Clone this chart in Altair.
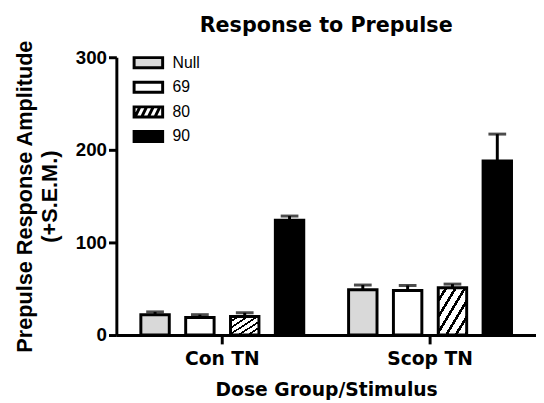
import altair as alt
import pandas as pd

# ---- data ----
groups = ["Con TN", "Scop TN"]
stimuli = ["Null", "69", "80", "90"]
means_con = [22, 19, 20, 124]
sem_con = [3, 3, 4, 4.5]
means_scop = [49, 48, 51, 188]
sem_scop = [5, 5.5, 4, 29]

rows = []
for g, ms, es in [(groups[0], means_con, sem_con), (groups[1], means_scop, sem_scop)]:
    for s, m, e in zip(stimuli, ms, es):
        rows.append({"group": g, "stim": s, "mean": m, "sem": e})
df = pd.DataFrame(rows)

# ---- styles ----
fill_colors = ["#d9d9d9", "white", "white", "black"]

# diagonal hatch as a hard-stop linear gradient
n_stripes = 6
black_frac = 0.32
stops = []
for k in range(n_stripes):
    a = k / n_stripes
    b = (k + 1 - black_frac) / n_stripes
    c = (k + 1) / n_stripes
    stops += [
        {"offset": a, "color": "white"},
        {"offset": b, "color": "white"},
        {"offset": b, "color": "black"},
        {"offset": c, "color": "black"},
    ]
hatch_gradient = {"gradient": "linear", "x1": 0, "y1": 0, "x2": 1, "y2": 1, "stops": stops}
bar_fills = {"Null": fill_colors[0], "69": fill_colors[1], "80": hatch_gradient, "90": fill_colors[3]}

# legend symbols (wide rectangles; the 80 one carries diagonal stripes)
rect_path = "M-1.61,-0.57H1.61V0.57H-1.61Z"
hatch_path = (rect_path
              + " M-1.5,0.57L-0.95,-0.57 M-0.75,0.57L-0.2,-0.57"
              + " M0.0,0.57L0.55,-0.57 M0.75,0.57L1.3,-0.57")
shapes = [rect_path, rect_path, hatch_path, rect_path]

x_enc = alt.X(
    "group:N",
    scale=alt.Scale(domain=groups, paddingInner=0, paddingOuter=0.01),
    axis=alt.Axis(
        title="Dose Group/Stimulus",
        labelAngle=0,
        labelFont="DejaVu Sans",
        labelFontSize=19,
        labelFontWeight="bold",
        labelPadding=6,
        tickSize=9,
        titleFont="DejaVu Sans",
        titleFontSize=19,
        titleFontWeight="bold",
        titlePadding=12,
    ),
)
xo_enc = alt.XOffset("stim:N", scale=alt.Scale(domain=stimuli, paddingInner=0.366, paddingOuter=0.5))
y_enc = alt.Y(
    "mean:Q",
    scale=alt.Scale(domain=[0, 300]),
    axis=alt.Axis(
        values=[0, 100, 200, 300],
        grid=False,
        title=["Prepulse Response Amplitude", "(+S.E.M.)"],
        labelFont="Liberation Sans",
        labelFontSize=19,
        labelFontWeight="bold",
        labelPadding=2,
        tickSize=8,
        titleFont="Liberation Sans",
        titleFontSize=22,
        titleFontWeight="bold",
        titleLineHeight=25,
        titlePadding=14,
    ),
)

base = alt.Chart(df).transform_calculate(hi="datum.mean + datum.sem", mid="datum.mean / 2")

bar_fill = alt.value(
    "white",
    condition=[{"test": f"datum.stim === '{s}'", "value": v} for s, v in bar_fills.items()],
)

bars = base.mark_bar(stroke="black", strokeWidth=3).encode(
    x=x_enc,
    xOffset=xo_enc,
    y=y_enc,
    fill=bar_fill,
)

err = base.mark_rule(color="black", strokeWidth=3).encode(
    x=x_enc, xOffset=xo_enc, y=alt.Y("mean:Q"), y2="hi:Q"
)
caps = base.mark_tick(color="black", thickness=3, size=18).encode(
    x=x_enc, xOffset=xo_enc, y=alt.Y("hi:Q")
)

legend = alt.Legend(
    title=None,
    orient="none",
    legendX=22,
    legendY=-5,
    padding=0,
    symbolSize=324,
    symbolStrokeWidth=3,
    symbolOpacity=1,
    labelFont="Liberation Sans",
    labelFontSize=16,
    labelFontWeight="normal",
    labelColor="black",
    labelOffset=14,
    rowPadding=2,
)

# legend carrier: tiny points hidden behind the bars (drawn first)
legend_layer = base.mark_point(filled=True, size=2, stroke="black", strokeWidth=3).encode(
    x=x_enc,
    xOffset=xo_enc,
    y=alt.Y("mid:Q"),
    fill=alt.Fill("stim:N", scale=alt.Scale(domain=stimuli, range=fill_colors), legend=legend),
    shape=alt.Shape("stim:N", scale=alt.Scale(domain=stimuli, range=shapes), legend=legend),
)

chart = (
    alt.layer(legend_layer, bars, err, caps)
    .properties(
        width=426,
        height=282,
        padding={"left": 6, "top": 4, "right": 0, "bottom": 0},
        title=alt.TitleParams(
            "Response to Prepulse",
            font="DejaVu Sans",
            fontSize=21,
            fontWeight="bold",
            anchor="middle",
            color="black",
            offset=4,
        ),
    )
    .configure_view(stroke=None)
    .configure_axis(
        domainColor="black",
        domainWidth=3,
        tickColor="black",
        tickWidth=3,
        labelColor="black",
        titleColor="black",
    )
)

chart.save("out.html", embed_options={"renderer": "svg", "actions": False})
